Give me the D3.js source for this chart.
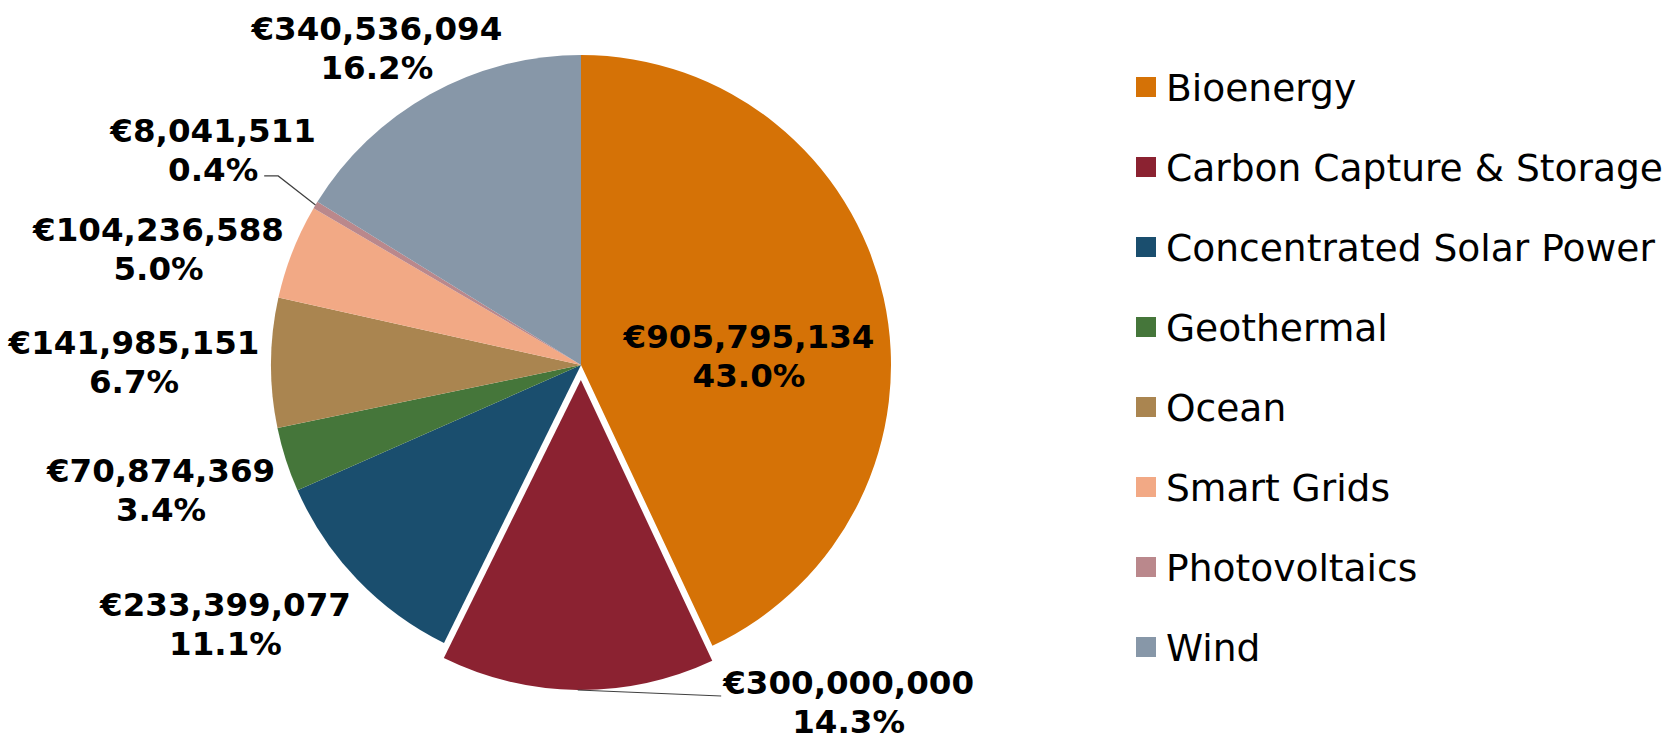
<!DOCTYPE html>
<html>
<head>
<meta charset="utf-8">
<script src="https://cdn.jsdelivr.net/npm/d3@7"></script>
<style>
  body { margin: 0; background: #fff; }
  svg { display: block; }
</style>
</head>
<body>
<div id="chart"></div>
<script>
// Data
const categories = ['Bioenergy', 'Carbon Capture & Storage', 'Concentrated Solar Power', 'Geothermal',
  'Ocean', 'Smart Grids', 'Photovoltaics', 'Wind'];
const amounts = [905795134, 300000000, 233399077, 70874369, 141985151, 104236588, 8041511, 340536094];
const sliceColors = ['#d57206', '#8b2231', '#1a4e6e', '#45763a', '#aa8550', '#f2a985', '#ba888c', '#8797a8'];
const explodedCategory = 'Carbon Capture & Storage';

// Layout
const width = 1677, height = 740;
const cx = 581, cy = 365, radius = 310, explode = 15;
const labelFont = '"DejaVu Sans", Verdana, sans-serif';
const labelSize = 32.5;
const lineGap = 39;

// label anchor = centroid of label arc + nudge (mimics Excel "best fit")
const labelNudge = {
  'Bioenergy': [2, 20],
  'Carbon Capture & Storage': [272, -111],
  'Concentrated Solar Power': [-38, -54],
  'Geothermal': [-1, -17],
  'Ocean': [-7, -8],
  'Smart Grids': [-13, 37],
  'Photovoltaics': [9, 4],
  'Wind': [10, 59]
};
const leaderFor = { 'Photovoltaics': 'side', 'Carbon Capture & Storage': 'left' };

const data = categories.map((name, i) => ({ name, value: amounts[i], color: sliceColors[i] }));
const total = d3.sum(amounts);
const fmtEuro = v => '€' + d3.format(',')(v);
const fmtPct = d3.format('.1%');

const svg = d3.select('#chart').append('svg')
  .attr('width', width)
  .attr('height', height);

const g = svg.append('g').attr('transform', `translate(${cx},${cy})`);

const pie = d3.pie().sort(null).value(d => d.value);
const arcs = pie(data);

const arc = d3.arc().innerRadius(0).outerRadius(radius);
const outerArc = d3.arc().innerRadius(440).outerRadius(440);
const innerArc = d3.arc().innerRadius(170).outerRadius(170);
const edgeArc = d3.arc().innerRadius(radius).outerRadius(radius);

function shift(d) {
  if (d.data.name !== explodedCategory) return [0, 0];
  const a = (d.startAngle + d.endAngle) / 2;
  return [explode * Math.sin(a), -explode * Math.cos(a)];
}

function anchor(d) {
  const c = (d.data.name === 'Bioenergy' ? innerArc : outerArc).centroid(d);
  const n = labelNudge[d.data.name];
  return [c[0] + n[0], c[1] + n[1]];
}

// slices
g.selectAll('path.slice')
  .data(arcs)
  .join('path')
  .attr('class', 'slice')
  .attr('d', arc)
  .attr('fill', d => d.data.color)
  .attr('transform', d => `translate(${shift(d)})`);

// labels
const labels = g.selectAll('g.label')
  .data(arcs)
  .join('g')
  .attr('class', 'label')
  .attr('transform', d => `translate(${anchor(d)})`);

labels.append('text')
  .attr('class', 'l1')
  .attr('text-anchor', 'middle')
  .style('font-family', labelFont)
  .style('font-weight', 'bold')
  .style('font-size', labelSize + 'px')
  .attr('fill', '#000')
  .text(d => fmtEuro(d.data.value));

labels.append('text')
  .attr('class', 'l2')
  .attr('y', lineGap)
  .attr('text-anchor', 'middle')
  .style('font-family', labelFont)
  .style('font-weight', 'bold')
  .style('font-size', labelSize + 'px')
  .attr('fill', '#000')
  .text(d => fmtPct(d.data.value / total));

// leader lines
labels.each(function(d) {
  const kind = leaderFor[d.data.name];
  if (!kind) return;
  const [lx, ly] = anchor(d);
  const s = shift(d);
  const e = edgeArc.centroid(d);
  const end = [e[0] + s[0], e[1] + s[1]];
  let pts;
  if (kind === 'side') {
    const w2 = d3.select(this).select('.l2').node().getComputedTextLength();
    const x0 = lx + w2 / 2 + 6, y0 = ly + lineGap - 5;
    pts = [[x0, y0], [x0 + 14, y0], end];
  } else {
    const w1 = d3.select(this).select('.l1').node().getComputedTextLength();
    pts = [[lx - w1 / 2 - 2, ly + 2], end];
  }
  g.append('path')
    .attr('d', d3.line()(pts))
    .attr('fill', 'none')
    .attr('stroke', '#404040')
    .attr('stroke-width', 1.2);
});

// legend
const legend = svg.append('g').attr('transform', 'translate(1136,87)');
const item = legend.selectAll('g')
  .data(data)
  .join('g')
  .attr('transform', (d, i) => `translate(0,${i * 80})`);

item.append('rect')
  .attr('x', 0)
  .attr('y', -10)
  .attr('width', 20)
  .attr('height', 20)
  .attr('fill', d => d.color);

item.append('text')
  .attr('x', 30)
  .attr('dy', '0.36em')
  .style('font-family', labelFont)
  .style('font-size', '37.6px')
  .attr('fill', '#000')
  .text(d => d.name);
</script>
</body>
</html>
